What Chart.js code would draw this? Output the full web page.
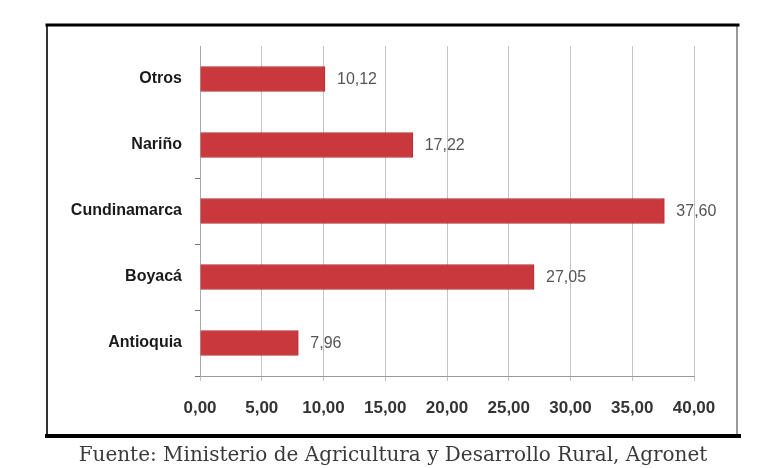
<!DOCTYPE html>
<html>
<head>
<meta charset="utf-8">
<script src="https://cdn.jsdelivr.net/npm/chart.js@4/dist/chart.umd.min.js"></script>
<style>
  html, body { margin: 0; padding: 0; background: #fff; }
  #wrap { position: relative; width: 775px; height: 468px; }
  #caption { position: absolute; left: 0; width: 786px; top: 442px; text-align: center;
    font-family: "DejaVu Serif", serif; font-size: 20px; color: #3a3a3a; white-space: nowrap; }
</style>
</head>
<body>
<div id="wrap">
  <canvas id="c" width="775" height="468"></canvas>
  <div id="caption">Fuente: Ministerio de Agricultura y Desarrollo Rural, Agronet</div>
</div>
<script>
const categories = ["Otros", "Nariño", "Cundinamarca", "Boyacá", "Antioquia"];
const values = [10.12, 17.22, 37.60, 27.05, 7.96];
const xTicks = [0, 5, 10, 15, 20, 25, 30, 35, 40];

const fmt = v => v.toFixed(2).replace('.', ',');

const framePlugin = {
  id: 'frame',
  beforeDraw(chart) {
    const ctx = chart.ctx;
    ctx.save();
    ctx.fillStyle = '#fff';
    ctx.fillRect(0, 0, chart.width, chart.height);
    ctx.lineCap = 'square';
    ctx.strokeStyle = '#333'; ctx.lineWidth = 2;
    ctx.beginPath(); ctx.moveTo(47, 25); ctx.lineTo(47, 436); ctx.stroke();
    ctx.strokeStyle = '#999'; ctx.lineWidth = 2;
    ctx.beginPath(); ctx.moveTo(737, 25); ctx.lineTo(737, 436); ctx.stroke();
    ctx.strokeStyle = '#000'; ctx.lineWidth = 3;
    ctx.beginPath(); ctx.moveTo(47, 25); ctx.lineTo(738, 25); ctx.stroke();
    ctx.lineWidth = 4;
    ctx.beginPath(); ctx.moveTo(47, 436); ctx.lineTo(739, 436); ctx.stroke();
    ctx.restore();
  }
};

const labelPlugin = {
  id: 'vals',
  afterDatasetsDraw(chart) {
    const ctx = chart.ctx;
    const meta = chart.getDatasetMeta(0);
    ctx.save();
    ctx.font = '16px "Liberation Sans", sans-serif';
    ctx.fillStyle = '#555';
    ctx.textAlign = 'left';
    ctx.textBaseline = 'middle';
    meta.data.forEach((bar, i) => {
      ctx.fillText(fmt(values[i]), bar.x + 12, bar.y + 1);
    });
    ctx.restore();
  }
};

new Chart(document.getElementById('c'), {
  type: 'bar',
  data: {
    labels: categories,
    datasets: [{
      data: values,
      backgroundColor: '#c9383c',
      borderColor: '#b52d31',
      borderWidth: 1,
      barThickness: 25
    }]
  },
  options: {
    indexAxis: 'y',
    responsive: false,
    animation: false,
    layout: { padding: { left: 0, right: 81, top: 46, bottom: 0 } },
    plugins: { legend: { display: false }, tooltip: { enabled: false } },
    scales: {
      x: {
        min: 0, max: 40,
        afterBuildTicks(scale) { scale.ticks = xTicks.map(v => ({ value: v })); },
        afterFit(scale) { scale.height = 92; },
        grid: { color: '#c4c4c4', lineWidth: 1, tickLength: 5, drawTicks: true },
        border: { color: '#9a9a9a' },
        ticks: {
          padding: 17,
          maxRotation: 0,
          color: '#333',
          font: { family: '"Liberation Sans", sans-serif', size: 17, weight: 'bold' },
          callback: v => fmt(v)
        }
      },
      y: {
        afterFit(scale) { scale.width = 200; },
        grid: {
          offset: true, drawOnChartArea: false, tickLength: 5,
          color: '#888',
          tickColor: c => (c.index < 2 ? 'rgba(0,0,0,0)' : '#777')
        },
        border: { color: '#aaaaaa' },
        ticks: {
          padding: 13,
          color: '#1a1a1a',
          font: { family: '"Liberation Sans", sans-serif', size: 16, weight: 'bold' }
        }
      }
    }
  },
  plugins: [framePlugin, labelPlugin]
});
</script>
</body>
</html>
